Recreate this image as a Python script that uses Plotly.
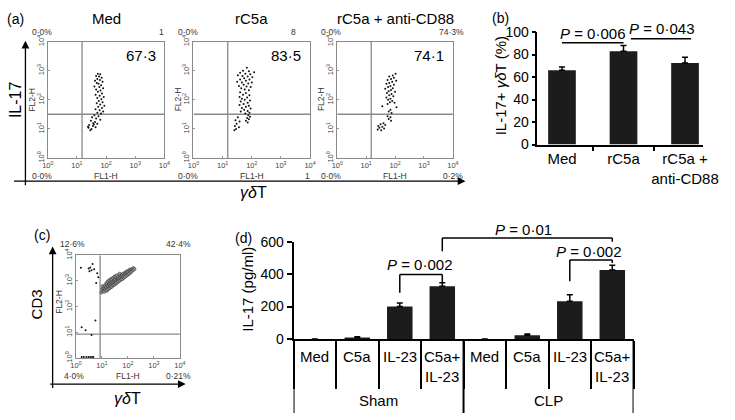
import numpy as np
import plotly.graph_objects as go

W, H = 735, 420
FONT = "Liberation Sans, Arial, sans-serif"

# ---------------- panel (a): flow plots ----------------
a_titles = ["Med", "rC5a", "rC5a + anti-CD88"]
a_big = ["67·3", "83·5", "74·1"]
a_corner_tl = ["0·0%", "0·0%", "0·0%"]
a_corner_tr = ["1", "8", "74·3%"]
a_corner_bl = ["0·0%", "0·0%", "0·0%"]
a_corner_br = ["", "1", "0·2%"]
a_gate = [15, 32]          # FL1-H, FL2-H quadrant gates
decades = [0, 1, 2, 3, 4]

# dot positions in log10 units (FL1-H, FL2-H)
a1_lx = [1.72, 1.80, 1.66, 1.76, 1.85, 1.70, 1.62, 1.79, 1.88, 1.68, 1.74, 1.83, 1.60, 1.77, 1.90, 1.66, 1.81, 1.72,
         1.86, 1.64, 1.78, 1.92, 1.70, 1.84, 1.75, 1.88, 1.68, 1.80, 1.94, 1.73, 1.86, 1.64, 1.78, 1.90, 1.70, 1.83,
         1.60, 1.74, 1.52, 1.66, 1.80, 1.48, 1.62, 1.56, 1.70, 1.42, 1.55, 1.64, 1.40, 1.50, 1.46, 1.58, 1.38]
a1_ly = [2.90, 2.88, 2.82, 2.80, 2.76, 2.72, 2.66, 2.68, 2.62, 2.58, 2.55, 2.50, 2.46, 2.44, 2.40, 2.36, 2.32, 2.28,
         2.22, 2.18, 2.14, 2.10, 2.06, 2.02, 1.96, 1.92, 1.88, 1.84, 1.80, 1.76, 1.72, 1.68, 1.64, 1.60, 1.56, 1.53,
         1.47, 1.44, 1.40, 1.36, 1.32, 1.28, 1.24, 1.20, 1.18, 1.14, 1.10, 1.06, 1.04, 1.00, 0.96, 1.15, 1.08]

a2_lx = [1.83, 1.70, 1.90, 2.08, 1.60, 1.78, 1.95, 1.52, 1.68, 1.86, 2.02, 1.74, 1.60, 1.92, 1.80, 1.50, 1.66, 2.00,
         1.88, 1.72, 1.56, 1.82, 1.96, 1.64, 1.76, 1.90,
         1.60, 1.80, 1.70, 1.92, 1.58, 1.84, 1.66, 1.76, 1.94, 1.62, 1.86, 1.72, 1.58, 1.90, 1.80, 1.66, 1.96, 1.74,
         1.86, 1.62, 1.92, 1.78,
         1.88, 1.94, 1.84, 1.90, 1.80, 1.86, 1.52, 1.44, 1.58, 1.48, 1.42, 1.56, 1.46, 1.40]
a2_ly = [3.10, 3.00, 2.98, 2.95, 2.93, 2.90, 2.88, 2.85, 2.82, 2.80, 2.78, 2.74, 2.70, 2.70, 2.66, 2.62, 2.60, 2.60,
         2.56, 2.52, 2.48, 2.46, 2.44, 2.40, 2.36, 2.33,
         2.26, 2.24, 2.18, 2.16, 2.10, 2.08, 2.04, 2.00, 1.98, 1.94, 1.90, 1.86, 1.82, 1.80, 1.76, 1.72, 1.70, 1.66,
         1.62, 1.60, 1.56, 1.53,
         1.47, 1.42, 1.38, 1.33, 1.28, 1.22, 1.40, 1.30, 1.26, 1.18, 1.10, 1.06, 1.00, 0.96]

a3_lx = [2.02, 1.92, 1.80, 1.96, 1.86, 1.74, 2.04, 1.90, 1.80, 1.70, 1.96, 1.84, 1.76, 1.92, 1.66, 1.86, 1.78, 2.00,
         1.72, 1.88, 1.80, 1.94, 1.70, 1.84, 1.76, 1.90, 1.82, 1.98, 1.74, 1.56, 2.05, 1.84, 1.78, 1.88,
         1.74, 1.84, 1.78, 1.86, 1.60, 1.50, 1.66, 1.42, 1.56, 1.46, 1.62, 1.40, 1.52]
a3_ly = [2.90, 2.84, 2.80, 2.76, 2.72, 2.68, 2.66, 2.62, 2.58, 2.55, 2.52, 2.48, 2.44, 2.40, 2.38, 2.34, 2.30, 2.28,
         2.24, 2.20, 2.16, 2.12, 2.08, 2.04, 2.00, 1.96, 1.92, 1.90, 1.86, 1.78, 1.75, 1.66, 1.60, 1.55,
         1.44, 1.40, 1.34, 1.28, 1.20, 1.16, 1.14, 1.10, 1.08, 1.04, 1.02, 0.98, 0.96]

# ---------------- panel (b) ----------------
b_cats = ["Med", "rC5a", "rC5a +<br>anti-CD88"]
b_vals = [66, 83, 72.5]
b_err = [3, 5, 5]
b_p = ["<i>P</i> = 0·006", "<i>P</i> = 0·043"]

# ---------------- panel (c) ----------------
c_corners = ["12·6%", "42·4%", "4·0%", "0·21%"]
c_gate = [8.5, 8.5]
c_lx = [0.98, 1.01, 1.03, 1.05, 1.07, 1.09, 1.11, 1.12, 1.14, 1.16, 1.17, 1.19, 1.21, 1.22, 1.18, 1.24, 1.26, 1.27,
        1.23, 1.29, 1.31, 1.32, 1.28, 1.34, 1.36, 1.37, 1.33, 1.39, 1.41, 1.42, 1.38, 1.44, 1.46, 1.47, 1.43, 1.49,
        1.51, 1.52, 1.48, 1.54, 1.56, 1.57, 1.53, 1.59, 1.61, 1.62, 1.58, 1.64, 1.66, 1.67, 1.69, 1.71, 1.72, 1.68,
        1.74, 1.76, 1.77, 1.79, 1.81, 1.82, 1.84, 1.86, 1.87, 1.89, 1.91, 1.92, 1.94, 1.96, 1.97, 1.99, 2.01, 2.04,
        2.06, 2.07, 2.09, 2.11, 2.14, 2.16, 2.19, 2.21, 2.25]
c_ly = [2.55, 2.68, 2.80, 2.62, 2.72, 2.58, 2.70, 2.82, 2.66, 2.76, 2.88, 2.62, 2.72, 2.82, 2.92, 2.68, 2.78, 2.88,
        2.98, 2.72, 2.82, 2.92, 3.02, 2.76, 2.86, 2.96, 3.06, 2.78, 2.88, 2.98, 3.08, 2.84, 2.94, 3.04, 3.12, 2.86,
        2.96, 3.06, 3.16, 2.90, 3.00, 3.10, 3.18, 2.94, 3.04, 3.14, 3.22, 2.98, 3.08, 3.18, 3.02, 3.12, 3.22, 3.28,
        3.06, 3.16, 3.24, 3.08, 3.18, 3.28, 3.12, 3.22, 3.30, 3.16, 3.26, 3.34, 3.20, 3.30, 3.38, 3.24, 3.34, 3.28,
        3.38, 3.44, 3.32, 3.42, 3.36, 3.46, 3.42, 3.50, 3.46]
c_out_lx = [0.19, 0.49, 0.55, 0.60, 0.52, 0.64, 0.70, 0.86, 0.78, 0.82, 0.75, 0.22, 0.37, 0.60,
            0.22, 0.30, 0.40, 0.48, 0.55, 0.62, 0.67]
c_out_ly = [3.51, 3.48, 3.52, 3.42, 3.38, 3.66, 3.45, 3.14, 2.92, 3.30, 1.46, 1.20, 1.08, 0.90,
            0.04, 0.04, 0.04, 0.04, 0.04, 0.04, 0.04]

# ---------------- panel (d) ----------------
d_groups = ["Sham", "CLP"]
d_treat = ["Med", "C5a", "IL-23", "C5a+<br>IL-23"]
d_vals = [0, 8, 200, 325, 0, 22, 232, 425]
d_err = [0, 5, 22, 21, 0, 8, 40, 30]
d_p = ["<i>P</i> = 0·002", "<i>P</i> = 0·01", "<i>P</i> = 0·002"]


def px(v):
    return v / W


def py(v):
    return 1 - v / H


fig = go.Figure()
layout = {}


def ids(n):
    return ("x", "y") if n == 1 else (f"x{n}", f"y{n}")


def flow_axes(n, x0, x1, y0, y1):
    common = dict(type="log", range=[0, 4], tickvals=[10 ** d for d in decades],
                  ticktext=[f"10<sup>{d}</sup>" for d in decades],
                  tickfont=dict(size=7.5, color="#444"), ticks="inside", ticklen=2, tickcolor="#999",
                  showline=True, linecolor="#8a8a8a", linewidth=1, mirror=True,
                  showgrid=False, zeroline=False)
    xa, ya = ids(n)
    xk = "xaxis" if n == 1 else f"xaxis{n}"
    yk = "yaxis" if n == 1 else f"yaxis{n}"
    layout[xk] = dict(domain=[px(x0), px(x1)], anchor=ya, **common)
    layout[yk] = dict(domain=[py(y1), py(y0)], anchor=xa, tickangle=-90, **common)


def flow_plot(n, lx, ly, gate, dot=None):
    xa, ya = ids(n)
    fig.add_trace(go.Scatter(x=[gate[0]] * 2, y=[1, 1e4], mode="lines",
                             line=dict(color="#8a8a8a", width=1.3), xaxis=xa, yaxis=ya))
    fig.add_trace(go.Scatter(x=[1, 1e4], y=[gate[1]] * 2, mode="lines",
                             line=dict(color="#8a8a8a", width=1.3), xaxis=xa, yaxis=ya))
    fig.add_trace(go.Scatter(x=10 ** np.array(lx), y=10 ** np.array(ly), mode="markers",
                             marker=dot or dict(size=2, color="#111"), xaxis=xa, yaxis=ya))


def txt(x, y, s, size=9, xanchor="center", yanchor="middle", angle=0, xref="paper", yref="paper", color="black"):
    fig.add_annotation(x=px(x) if xref == "paper" else x, y=py(y) if yref == "paper" else y,
                       xref=xref, yref=yref, text=s, showarrow=False, textangle=angle,
                       xanchor=xanchor, yanchor=yanchor,
                       font=dict(size=size, color=color, family=FONT))


def arrow(x0, y0, x1, y1):
    fig.add_annotation(x=px(x1), y=py(y1), xref="paper", yref="paper", ax=x0 - x1, ay=y0 - y1,
                       axref="pixel", ayref="pixel", showarrow=True, arrowhead=2, arrowsize=1.2,
                       arrowwidth=1.3, arrowcolor="black", text="")


# ---- (a)
a_boxes = [(43, 163), (193, 313), (341, 460)]
a_tr_shift = [2, -12, 14]
a_br_shift = [2, 2, 13]
a_dots = [(a1_lx, a1_ly), (a2_lx, a2_ly), (a3_lx, a3_ly)]
for i, (x0, x1) in enumerate(a_boxes):
    flow_axes(i + 1, x0, x1, 35, 156)
    flow_plot(i + 1, a_dots[i][0], a_dots[i][1], a_gate)
    cx = (x0 + x1) / 2
    txt(cx, 11, a_titles[i], size=15)
    txt(x1 - 7, 49, a_big[i], size=15, xanchor="right")
    txt(x0 - 6, 25, a_corner_tl[i], size=8.5, color="#333")
    txt(x1 + a_tr_shift[i], 25, a_corner_tr[i], size=8.5, xanchor="right", color="#333")
    txt(x0 - 6, 175, a_corner_bl[i], size=8.5, color="#333")
    txt(x1 + a_br_shift[i], 175, a_corner_br[i], size=8.5, xanchor="right", color="#333")
    txt(cx, 175, "FL1-H", size=8.5, color="#333")
    txt(x0 - 16, 95, "FL2-H", size=8.5, angle=-90, color="#333")
txt(10, 11, "(a)", size=14)
arrow(20, 180, 20, 34)
arrow(20, 180, 473, 180)
txt(10, 95, "IL-17", size=16, angle=-90)
txt(255, 192, "<i>γδ</i>T", size=16)

# ---- (c)
flow_axes(5, 72, 179, 257, 364)
flow_plot(5, c_out_lx, c_out_ly, c_gate)
fig.add_trace(go.Scatter(x=10 ** np.array(c_lx), y=10 ** np.array(c_ly), mode="markers",
                         marker=dict(size=3.2, color="#9a9a9a", line=dict(width=0.5, color="#222")),
                         xaxis="x5", yaxis="y5"))
txt(68, 245, c_corners[0], size=8.5, color="#333")
txt(192, 245, c_corners[1], size=8.5, xanchor="right", color="#333")
txt(70, 383, c_corners[2], size=8.5, color="#333")
txt(192, 383, c_corners[3], size=8.5, xanchor="right", color="#333")
txt(126, 383, "FL1-H", size=8.5, color="#333")
txt(55, 305, "FL2-H", size=8.5, angle=-90, color="#333")
txt(37, 236, "(c)", size=14)
arrow(48, 391, 48, 248)
arrow(48, 391, 185, 391)
txt(31, 308, "CD3", size=15, angle=-90)
txt(125, 406, "<i>γδ</i>T", size=16)

# ---- (b)
fig.add_trace(go.Bar(x=b_cats, y=b_vals, width=0.45, marker=dict(color="#1c1c1c", line=dict(width=0)),
                     error_y=dict(type="data", symmetric=False, array=b_err, arrayminus=[0] * len(b_err),
                                  color="black", thickness=1.5, width=3),
                     xaxis="x4", yaxis="y4"))
layout["xaxis4"] = dict(domain=[px(547), px(718)], anchor="y4", type="category", range=[-0.4, 2.3],
                        tickson="boundaries", ticks="outside", ticklen=5, tickwidth=1.5, tickcolor="black",
                        tickangle=0, showline=True, linecolor="black", linewidth=1.5, showgrid=False,
                        tickfont=dict(size=15, color="black"))
layout["yaxis4"] = dict(domain=[py(142), py(25)], anchor="x4", range=[0, 100], tickvals=[0, 20, 40, 60, 80, 100],
                        ticks="outside", ticklen=4, tickwidth=1.5, tickcolor="black", showline=True,
                        linecolor="black", linewidth=1.5, showgrid=False, zeroline=False,
                        tickfont=dict(size=14, color="black"))
fig.add_shape(type="line", xref="x4", yref="paper", x0=0, x1=1, y0=py(36), y1=py(36),
              line=dict(color="black", width=1.5))
fig.add_shape(type="line", xref="x4", yref="paper", x0=1.12, x1=2.1, y0=py(32), y1=py(32),
              line=dict(color="black", width=1.5))
txt(0.5, 27, b_p[0], size=15, xref="x4")
txt(1.61, 21, b_p[1], size=15, xref="x4")
txt(509, 10, "(b)", size=14)
txt(509, 81, "IL-17+ <i>γδ</i>T (%)", size=15, angle=-90)

# ---- (d)
d_keys = [f"{g} {t}" for g in d_groups for t in d_treat]
fig.add_trace(go.Bar(x=d_keys, y=d_vals, width=0.6, marker=dict(color="#1c1c1c", line=dict(width=0)),
                     error_y=dict(type="data", symmetric=False, array=d_err, arrayminus=[0] * len(d_err),
                                  color="black", thickness=1.5, width=3),
                     xaxis="x6", yaxis="y6"))
layout["xaxis6"] = dict(domain=[px(296), px(646)], anchor="y6", type="category", range=[-0.5, 7.5],
                        showticklabels=False, tickson="boundaries", ticks="outside", ticklen=48, tickwidth=2,
                        tickcolor="black", showline=True, linecolor="black", linewidth=2, showgrid=False)
layout["yaxis6"] = dict(domain=[py(344), py(243)], anchor="x6", range=[0, 600], tickvals=[0, 200, 400, 600],
                        ticks="outside", ticklen=5, tickwidth=1.5, tickcolor="black", showline=True,
                        linecolor="black", linewidth=2, showgrid=False, zeroline=False,
                        tickfont=dict(size=14, color="black"))
for xb in [-0.5, 3.5, 7.5]:
    fig.add_shape(type="line", xref="x6", yref="paper", x0=xb, x1=xb, y0=py(344), y1=py(421),
                  line=dict(color="black", width=2))
for k, t in zip(d_keys, d_treat * len(d_groups)):
    txt(k, 351, t, size=15, xref="x6", yanchor="top")
for gi, g in enumerate(d_groups):
    txt(gi * 4 + 1.5, 408, g, size=15, xref="x6")


def bracket(xa, xb, ya, top, yb):
    for (x0, y0, x1, y1) in [(xa, ya, xa, top), (xa, top, xb, top), (xb, top, xb, yb)]:
        fig.add_shape(type="line", xref="x6", yref="paper", x0=x0, x1=x1, y0=py(y0), y1=py(y1),
                      line=dict(color="black", width=1.5))


bracket(2, 3, 296, 277, 285)
bracket(3, 7, 253, 239, 243)
bracket(6, 7, 284, 262, 265)
txt(2.46, 267, d_p[0], size=15, xref="x6")
txt(4.92, 230, d_p[1], size=15, xref="x6")
txt(6.45, 253, d_p[2], size=15, xref="x6")
txt(244, 239, "(d)", size=14)
txt(249, 292, "IL-17 (pg/ml)", size=15, angle=-90)

fig.update_layout(width=W, height=H, autosize=False, margin=dict(l=0, r=0, t=0, b=0), showlegend=False,
                  plot_bgcolor="white", paper_bgcolor="white", font=dict(family=FONT, color="black"),
                  **layout)
fig.write_html("out.html", config={"displayModeBar": False},
               post_script="document.body.style.margin='0';")
